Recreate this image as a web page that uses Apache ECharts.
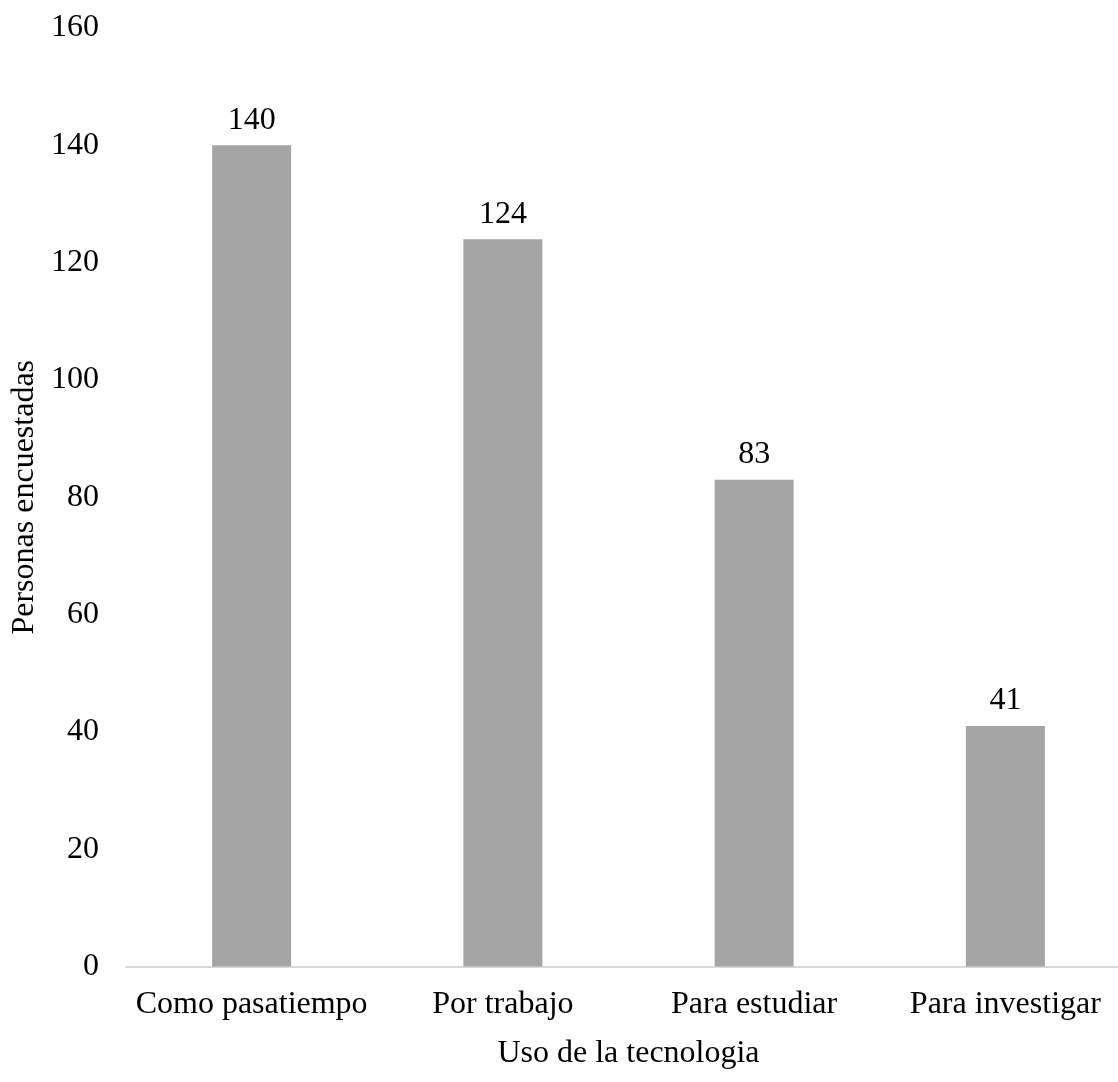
<!DOCTYPE html>
<html>
<head>
<meta charset="utf-8">
<script src="https://cdn.jsdelivr.net/npm/echarts@6/dist/echarts.min.js"></script>
<style>
  html, body { margin: 0; padding: 0; background: #ffffff; overflow: hidden; width: 1118px; height: 1082px; }
  /* the plot area runs slightly past the right edge of the page */
  #chart { width: 1131px; height: 1082px; }
</style>
</head>
<body>
<div id="chart"></div>
<script>
// Uso de la tecnologia — personas encuestadas por categoría
const categories = ['Como pasatiempo', 'Por trabajo', 'Para estudiar', 'Para investigar'];
const personas = [140, 124, 83, 41];
const yTicks = { min: 0, max: 160, interval: 20 };

const FONT = '"Liberation Serif", "Times New Roman", serif';
const chart = echarts.init(document.getElementById('chart'), null, { renderer: 'canvas' });

chart.setOption({
  backgroundColor: '#ffffff',
  animation: false,
  grid: { left: 126, top: 28, right: 0, bottom: 115.5, containLabel: false },
  xAxis: {
    type: 'category',
    data: categories,
    name: 'Uso de la tecnologia',
    nameLocation: 'middle',
    nameGap: 71,
    nameTextStyle: { fontFamily: FONT, fontSize: 32, color: '#000000' },
    axisLine: { show: true, lineStyle: { color: '#d9d9d9', width: 2 } },
    axisTick: { show: false },
    axisLabel: { fontFamily: FONT, fontSize: 32, color: '#000000', margin: 22, interval: 0 }
  },
  yAxis: {
    type: 'value',
    min: yTicks.min,
    max: yTicks.max,
    interval: yTicks.interval,
    name: 'Personas encuestadas',
    nameLocation: 'middle',
    nameGap: 84,
    nameRotate: 90,
    nameTextStyle: { fontFamily: FONT, fontSize: 32, color: '#000000' },
    axisLine: { show: false },
    axisTick: { show: false },
    splitLine: { show: false },
    axisLabel: { fontFamily: FONT, fontSize: 32, color: '#000000', margin: 27 }
  },
  series: [{
    type: 'bar',
    data: personas,
    barWidth: 79,
    itemStyle: { color: '#a5a5a5' },
    label: {
      show: true,
      position: 'top',
      distance: 9,
      fontFamily: FONT,
      fontSize: 32,
      color: '#000000'
    }
  }]
});
</script>
</body>
</html>
